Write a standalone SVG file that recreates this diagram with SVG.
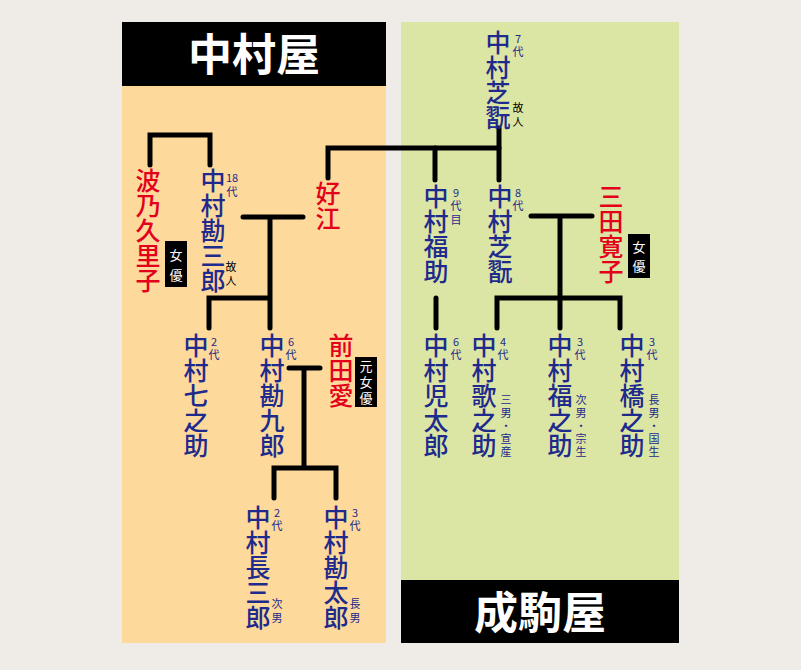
<svg xmlns="http://www.w3.org/2000/svg" width="801" height="670" viewBox="0 0 801 670">
<style>
.n{font-family:"Noto Sans CJK JP",sans-serif;font-size:25px;font-weight:500;fill:#1e2a8c;writing-mode:vertical-rl}
.r{fill:#e3001b}
.s{font-family:"Noto Sans CJK JP",sans-serif;font-size:11px;fill:#1e2a8c;text-anchor:middle}
.k{fill:#000}
.bw{font-family:"Noto Sans CJK JP",sans-serif;font-size:13px;fill:#fff;text-anchor:middle}
.h{font-family:"Noto Sans CJK JP",sans-serif;font-size:44px;font-weight:bold;fill:#fff;text-anchor:middle}
.c{fill:none;stroke:#000;stroke-width:5;stroke-linecap:round;stroke-linejoin:miter}
</style>
<rect width="801" height="670" fill="#efebe6"/>
<rect x="122" y="22" width="264" height="621" fill="#fdd99b"/>
<rect x="401" y="22" width="278" height="621" fill="#dce6a4"/>
<g id="header-nakamuraya"><rect x="122" y="22" width="264" height="64" fill="#000"/><text class="h" x="254" y="71">中村屋</text></g>
<g id="header-narikomaya"><rect x="401" y="580" width="278" height="63" fill="#000"/><text class="h" x="540" y="629">成駒屋</text></g>
<g id="connectors">
<path class="c" d="M150,165 V135 H210 V165"/>
<path class="c" d="M328,178 V148 H499"/>
<path class="c" d="M499,128 V180 M435,148 V180"/>
<path class="c" d="M243,217 H303 M270,217 V298 M209,328 V298 H270 V328"/>
<path class="c" d="M289,368 H320 M304,368 V468 M274,498 V468 H336 V498"/>
<path class="c" d="M531,216 H592 M560,216 V298 M497,328 V298 H620 V328 M560,298 V328"/>
<path class="c" d="M436,298 V328"/>
</g>
<g id="hanoe"><text class="n r" x="148" y="168">波乃久里子</text><rect x="165" y="241" width="22" height="46" fill="#000"/><text class="bw" x="176" y="260">女</text><text class="bw" x="176" y="280">優</text></g>
<g id="kanzaburo"><text class="n" x="213" y="168">中村勘三郎</text><text class="s" x="232" y="182">18</text><text class="s" x="232" y="196">代</text><text class="s k" x="231" y="271">故</text><text class="s k" x="231" y="285">人</text></g>
<g id="yoshie"><text class="n r" x="328" y="181">好江</text></g>
<g id="shichinosuke"><text class="n" x="196" y="333">中村七之助</text><text class="s" x="214" y="346">2</text><text class="s" x="214" y="359">代</text></g>
<g id="kankuro"><text class="n" x="272" y="333">中村勘九郎</text><text class="s" x="291" y="346">6</text><text class="s" x="291" y="359">代</text></g>
<g id="maeda"><text class="n r" x="341" y="333">前田愛</text><rect x="355" y="357" width="22" height="50" fill="#000"/><text class="bw" x="366" y="371">元</text><text class="bw" x="366" y="387">女</text><text class="bw" x="366" y="403">優</text></g>
<g id="chozaburo"><text class="n" x="258" y="505">中村長三郎</text><text class="s" x="277" y="517">2</text><text class="s" x="277" y="530">代</text><text class="s" x="277" y="608">次</text><text class="s" x="277" y="622">男</text></g>
<g id="kantaro"><text class="n" x="336" y="505">中村勘太郎</text><text class="s" x="355" y="517">3</text><text class="s" x="355" y="530">代</text><text class="s" x="355" y="608">長</text><text class="s" x="355" y="622">男</text></g>
<g id="shikan7"><text class="n" x="498" y="30">中村芝翫</text><text class="s" x="518" y="43">7</text><text class="s" x="518" y="56">代</text><text class="s k" x="518" y="112">故</text><text class="s k" x="518" y="126">人</text></g>
<g id="fukusuke"><text class="n" x="436" y="184">中村福助</text><text class="s" x="456" y="197">9</text><text class="s" x="456" y="210">代</text><text class="s" x="456" y="224">目</text></g>
<g id="shikan8"><text class="n" x="500" y="184">中村芝翫</text><text class="s" x="518" y="197">8</text><text class="s" x="518" y="210">代</text></g>
<g id="mita"><text class="n r" x="611" y="184">三田寛子</text><rect x="628" y="234" width="22" height="44" fill="#000"/><text class="bw" x="639" y="252">女</text><text class="bw" x="639" y="271">優</text></g>
<g id="kotaro"><text class="n" x="436" y="333">中村児太郎</text><text class="s" x="456" y="346">6</text><text class="s" x="456" y="359">代</text></g>
<g id="utanosuke"><text class="n" x="484" y="333">中村歌之助</text><text class="s" x="503" y="346">4</text><text class="s" x="503" y="359">代</text><text class="s" x="506" y="404">三</text><text class="s" x="506" y="417">男</text><text class="s" x="506" y="430">・</text><text class="s" x="506" y="443">宣</text><text class="s" x="506" y="456">産</text></g>
<g id="fukunosuke"><text class="n" x="560" y="333">中村福之助</text><text class="s" x="580" y="346">3</text><text class="s" x="580" y="359">代</text><text class="s" x="581" y="404">次</text><text class="s" x="581" y="417">男</text><text class="s" x="581" y="430">・</text><text class="s" x="581" y="443">宗</text><text class="s" x="581" y="456">生</text></g>
<g id="hashinosuke"><text class="n" x="632" y="333">中村橋之助</text><text class="s" x="652" y="346">3</text><text class="s" x="652" y="359">代</text><text class="s" x="654" y="404">長</text><text class="s" x="654" y="417">男</text><text class="s" x="654" y="430">・</text><text class="s" x="654" y="443">国</text><text class="s" x="654" y="456">生</text></g>
</svg>
